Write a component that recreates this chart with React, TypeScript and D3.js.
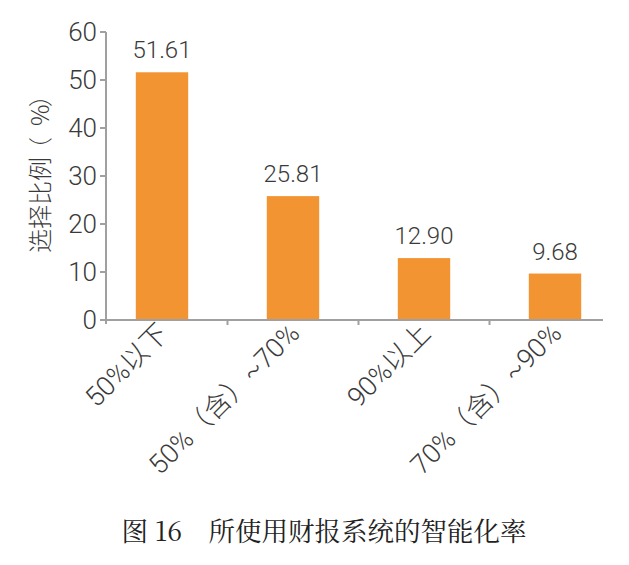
import React from "react";
import * as d3 from "d3";

const categories = ["50%以下", "50%（含）~70%", "90%以上", "70%（含）~90%"];
const values = [51.61, 25.81, 12.9, 9.68];
const valueLabels = ["51.61", "25.81", "12.90", "9.68"];
const yTicks = [0, 10, 20, 30, 40, 50, 60];
const yTitleParts = ["选择比例", "（", "%", "）"];
const caption = "图 16　所使用财报系统的智能化率";

export default function App() {
  const W = 629, H = 565;
  const left = 106, right = 603, top = 32, bottom = 320;
  const xb = d3.scaleBand<string>().domain(categories).range([96.5, 620.5]);
  const barW = xb.bandwidth() * 0.4;
  const y = d3.scaleLinear().domain([0, 60]).range([bottom, top]);
  const axisColor = "#a0a0a0";
  const textColor = "#3a3a3a";
  const font = "Roboto, 'Noto Sans CJK SC', sans-serif";
  const titleX = [0, 92, 127, 146];
  return (
    <svg width={W} height={H} style={{ position: "absolute", left: 0, top: 0, background: "#fff" }}>
      {categories.map((c, i) => {
        const cx = (xb(c) as number) + xb.bandwidth() / 2;
        return <rect key={c} x={cx - barW / 2} y={y(values[i])} width={barW} height={y(0) - y(values[i])} fill="#f39433" />;
      })}
      {categories.map((c, i) => (
        <text key={"v" + c} x={(xb(c) as number) + xb.bandwidth() / 2} y={y(values[i]) - 14} textAnchor="middle"
          fontFamily={font} fontWeight={300} fontSize={24} fill={textColor}>{valueLabels[i]}</text>
      ))}
      <line x1={left} x2={left} y1={top} y2={bottom + 4} stroke={axisColor} strokeWidth={2} />
      {yTicks.map(t => (
        <g key={t}>
          <line x1={left - 6} x2={left} y1={y(t)} y2={y(t)} stroke={axisColor} strokeWidth={2} />
          <text x={left - 9} y={y(t)} dy="0.36em" textAnchor="end" fontFamily={font} fontWeight={300} fontSize={26} fill={textColor}>{t}</text>
        </g>
      ))}
      <line x1={left} x2={right} y1={bottom} y2={bottom} stroke={axisColor} strokeWidth={2} />
      {categories.slice(1).map(c => {
        const p = xb(c) as number;
        return <line key={"t" + c} x1={p} x2={p} y1={bottom} y2={bottom + 5} stroke={axisColor} strokeWidth={2} />;
      })}
      {categories.map(c => {
        const cx = (xb(c) as number) + xb.bandwidth() / 2;
        return (
          <text key={"x" + c} transform={`translate(${cx + 8},${bottom + 15}) rotate(-45)`} textAnchor="end"
            fontFamily={font} fontWeight={300} fontSize={27} fill={textColor}>{c}</text>
        );
      })}
      <text transform={`translate(49,253) rotate(-90)`} textAnchor="start"
        fontFamily="'Noto Sans CJK SC', sans-serif" fontWeight={300} fontSize={24} fill={textColor}>
        {yTitleParts.map((p, i) => <tspan key={i} x={titleX[i]}>{p}</tspan>)}
      </text>
      <text x={324} y={541} textAnchor="middle" fontFamily="'Noto Serif CJK SC', 'Noto Sans CJK SC', serif" fontSize={26.5} fill="#222">{caption}</text>
    </svg>
  );
}
